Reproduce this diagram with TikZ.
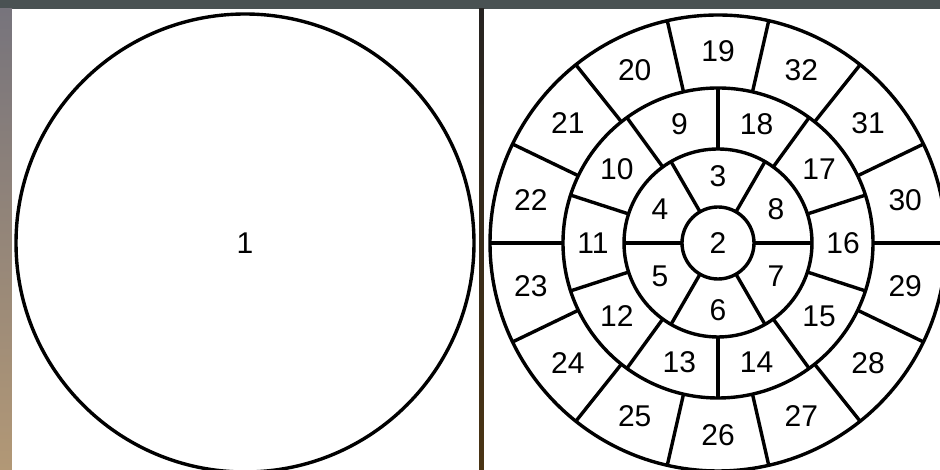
\documentclass[tikz,border=0pt]{standalone}
\usepackage{fontspec}
\setmainfont{Liberation Sans}
\usetikzlibrary{calc}
\definecolor{stonetop}{HTML}{4A5253}
\definecolor{stoneleft}{HTML}{77747C}
\definecolor{stonetan}{HTML}{B29876}
\definecolor{gapdark}{HTML}{262321}
\definecolor{gapbrown}{HTML}{4A3414}
\begin{document}
\begin{tikzpicture}[x=1pt,y=1pt,line width=3.4pt,line join=round,
  lbl/.style={font=\fontsize{30}{30}\selectfont,inner sep=0pt}]
\useasboundingbox (0,0) rectangle (940,470);
\clip (0,0) rectangle (940,470);
% background
\fill[stonetop] (0,0) rectangle (940,470);
\shade[top color=stoneleft,bottom color=stonetan] (0,0) rectangle (12,461);
\shade[top color=gapdark,bottom color=gapbrown] (479,0) rectangle (484,461);
\fill[white] (12,0) rectangle (479,461);
\fill[white] (484,0) rectangle (940,461);
% left panel
\coordinate (L) at (245,227);
\draw (L) circle[radius=229];
\node[lbl] (n1) at (L) {1};
% right panel
\coordinate (C) at (718,227);
\foreach \r in {36,94,155,228} \draw (C) circle[radius=\r];
\foreach \a in {0,60,...,300} \draw ($(C)+(\a:36)$) -- ($(C)+(\a:94)$);
\foreach \a in {18,54,...,342} \draw ($(C)+(\a:94)$) -- ($(C)+(\a:155)$);
\foreach \k in {0,...,13} \draw ($(C)+(\k*360/14:155)$) -- ($(C)+(\k*360/14:228)$);
\node[lbl] (n2) at (C) {2};
\foreach \n/\a in {3/90,4/150,5/210,6/270,7/330,8/30}
  \node[lbl] (n\n) at ($(C)+(\a:67)$) {\n};
\foreach \n/\a in {9/108,10/144,11/180,12/216,13/252,14/288,15/324,16/0,17/36,18/72}
  \node[lbl] (n\n) at ($(C)+(\a:125)$) {\n};
\foreach \n in {19,...,32}
  \node[lbl] (n\n) at ($(C)+({90+(\n-19)*360/14}:192)$) {\n};
\end{tikzpicture}
\end{document}
